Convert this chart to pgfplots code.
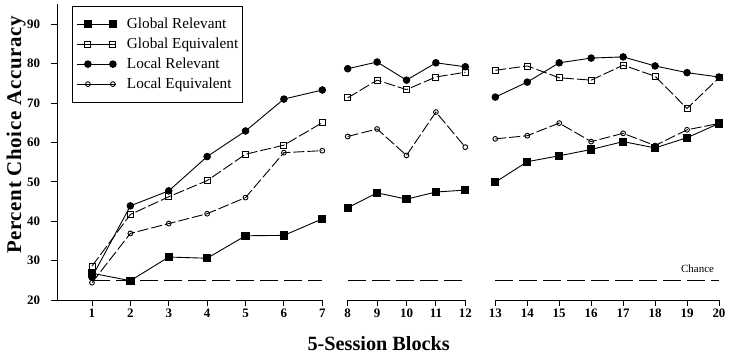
\documentclass[border=0pt]{standalone}
\usepackage{pgfplots}
\pgfplotsset{compat=1.18}
\usepackage{pgfplotstable}
\usepackage{fontspec}
\setmainfont{Liberation Serif}

\pgfplotstableread{
x  GR   GE   LR   LE
1  26.8 28.6 25.8 24.4
2  24.9 41.7 43.9 36.9
3  30.9 46.2 47.7 39.4
4  30.6 50.3 56.4 41.9
5  36.3 57.0 62.9 46.0
6  36.4 59.3 71.0 57.4
7  40.6 65.0 73.3 57.9
8  43.4 71.3 78.7 61.5
9  47.2 75.8 80.4 63.4
10 45.6 73.4 75.8 56.7
11 47.4 76.6 80.2 67.7
12 47.9 77.8 79.2 58.8
13 49.9 78.3 71.5 60.9
14 55.1 79.4 75.3 61.7
15 56.6 76.4 80.2 64.9
16 58.2 75.8 81.4 60.2
17 60.2 79.6 81.7 62.3
18 58.6 76.8 79.4 59.2
19 61.2 68.6 77.7 63.2
20 64.8 76.4 76.6 64.8
}\data

\pgfplotsset{
  common/.style={
    scale only axis, height=295.5bp, ymin=20, ymax=95,
    axis x line*=bottom,
    axis line style={-, line width=0.9bp, black},
    tick align=outside, major tick length=5.5bp,
    tick style={line width=0.9bp, black},
    ticklabel style={font=\bfseries\fontsize{13}{13}\selectfont},
    /pgf/number format/assume math mode=true,
    clip=false, anchor=south west, xtick distance=1,
  },
  gr/.style={black, line width=0.9bp, solid, mark=square*, mark size=3.6bp, mark options={solid, fill=black}},
  ge/.style={black, line width=0.9bp, dash pattern=on 11bp off 3bp, mark=square, mark size=3bp, mark options={solid, fill=white}},
  lr/.style={black, line width=0.9bp, solid, mark=*, mark size=3.3bp, mark options={solid, fill=black}},
  le/.style={black, line width=0.9bp, dash pattern=on 11bp off 3bp, mark=o, mark size=2.4bp, mark options={solid, fill=white}},
  chance/.style={black, line width=0.9bp, dash pattern=on 18bp off 6bp, forget plot},
}

\begin{document}
\begin{tikzpicture}
% segment 1
\begin{axis}[common, name=a1, at={(0bp,0bp)},
  width=265.3bp, xmin=0.0885, xmax=7,
  xtick={1,...,7},
  axis y line*=left,
  ytick={20,30,...,90},
  yticklabel style={xshift=-8bp},
  xlabel={5-Session Blocks},
  xlabel style={font=\bfseries\fontsize{20.3}{20}\selectfont, at={(axis description cs:1.2126,-0.149)}, anchor=center},
  ylabel={Percent Choice Accuracy},
  ylabel style={font=\bfseries\fontsize{21}{21}\selectfont\addfontfeatures{LetterSpace=3}, at={(axis description cs:-0.1545,0.558)}, anchor=center},
  legend style={at={(axis description cs:0.0565,0.996)}, anchor=north west,
    draw=black, line width=0.9bp, font=\fontsize{15.3}{17}\selectfont,
    inner xsep=4bp, inner ysep=10.5bp, row sep=5bp, column sep=0bp,
    nodes={inner xsep=0bp, inner ysep=0bp, text height=12bp, text depth=3bp},
    /tikz/every odd column/.append style={column sep=10bp}},
  legend cell align=left,
  legend image code/.code={\path (-11bp,0bp) -- (28.6bp,0bp);
    \draw[mark repeat=2,mark phase=1,#1] plot coordinates {(0bp,0bp) (12.5bp,0bp) (25bp,0bp)};},
]
\addplot[chance] coordinates {(1,25) (7,25)};
\addplot[gr] table[x=x, y=GR, restrict x to domain=1:7] {\data};
\addplot[ge] table[x=x, y=GE, restrict x to domain=1:7] {\data};
\addplot[lr] table[x=x, y=LR, restrict x to domain=1:7] {\data};
\addplot[le] table[x=x, y=LE, restrict x to domain=1:7] {\data};
\legend{Global Relevant, Global Equivalent, Local Relevant, Local Equivalent}
\end{axis}
% segment 2
\begin{axis}[common, at={(290.7bp,0bp)},
  width=117.6bp, xmin=8, xmax=12,
  xtick={8,...,12},
  axis y line=none, ytick=\empty,
]
\addplot[chance] coordinates {(8,25) (12,25)};
\addplot[gr] table[x=x, y=GR, restrict x to domain=8:12] {\data};
\addplot[ge] table[x=x, y=GE, restrict x to domain=8:12] {\data};
\addplot[lr] table[x=x, y=LR, restrict x to domain=8:12] {\data};
\addplot[le] table[x=x, y=LE, restrict x to domain=8:12] {\data};
\end{axis}
% segment 3
\begin{axis}[common, at={(438.3bp,0bp)},
  width=223.7bp, xmin=13, xmax=20,
  xtick={13,...,20},
  axis y line=none, ytick=\empty,
]
\addplot[chance] coordinates {(13,25) (20,25)};
\addplot[gr] table[x=x, y=GR, restrict x to domain=13:20] {\data};
\addplot[ge] table[x=x, y=GE, restrict x to domain=13:20] {\data};
\addplot[lr] table[x=x, y=LR, restrict x to domain=13:20] {\data};
\addplot[le] table[x=x, y=LE, restrict x to domain=13:20] {\data};
\node[font=\fontsize{11}{11}\selectfont] at (axis cs:19.33,27.87) {Chance};
\end{axis}
\pgfresetboundingbox
\path ([xshift=-57bp,yshift=-56bp]a1.south west) rectangle ([xshift=675bp,yshift=300bp]a1.south west);
\end{tikzpicture}
\end{document}
